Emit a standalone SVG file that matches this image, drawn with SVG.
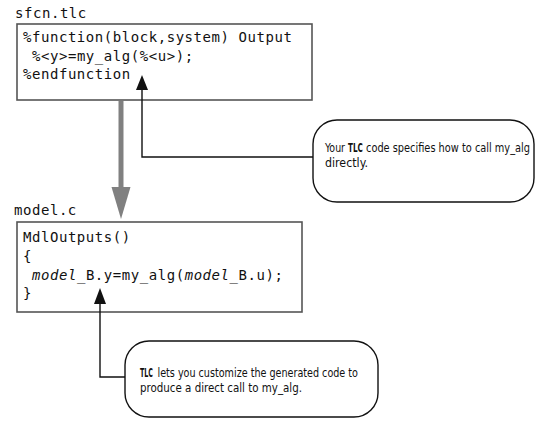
<svg xmlns="http://www.w3.org/2000/svg" width="536" height="421" viewBox="0 0 536 421">
<style>
.box{fill:#fff;stroke:#555;stroke-width:1.6}
.code{font-family:"DejaVu Sans Mono","Liberation Mono",monospace;font-size:14px;letter-spacing:0.55px;fill:#111}
.lbl{font-family:"DejaVu Sans Mono","Liberation Mono",monospace;font-size:14px;letter-spacing:0.55px;fill:#111}
.call{fill:#fff;stroke:#111;stroke-width:1.4}
.note{font-family:"Liberation Sans Narrow","DejaVu Sans Condensed","Liberation Sans",sans-serif;font-stretch:condensed;font-size:12.5px;fill:#111}
.b{font-weight:bold}
.ln{fill:none;stroke:#111;stroke-width:1.4}
</style>
<rect width="536" height="421" fill="#fff"/>
<g id="sfcn">
<text class="lbl" x="15" y="18">sfcn.tlc</text>
<rect class="box" x="17" y="24" width="295" height="76"/>
<text class="code" x="23" y="42">%function(block,system) Output</text>
<text class="code" x="32" y="61">%&lt;y&gt;=my_alg(%&lt;u&gt;);</text>
<text class="code" x="23" y="79">%endfunction</text>
</g>
<g id="modelc">
<text class="lbl" x="14" y="215">model.c</text>
<rect class="box" x="17" y="222" width="285" height="90"/>
<text class="code" x="23" y="242">MdlOutputs()</text>
<text class="code" x="23" y="261">{</text>
<text class="code" x="32" y="280"><tspan font-style="italic">model</tspan>_B.y=my_alg(<tspan font-style="italic">model</tspan>_B.u);</text>
<text class="code" x="23" y="298">}</text>
</g>
<g id="note1">
<rect class="call" x="313" y="120" width="221" height="82" rx="24" ry="24"/>
<text class="note" transform="translate(325,151.5) scale(0.8,1)" textLength="25" lengthAdjust="spacingAndGlyphs">Your</text>
<text class="note b" transform="translate(348,151.5) scale(0.8,1)" textLength="18.5" lengthAdjust="spacingAndGlyphs">TLC</text>
<text class="note" transform="translate(366,151.5) scale(0.8,1)" textLength="205" lengthAdjust="spacingAndGlyphs">code specifies how to call my_alg</text>
<text class="note" transform="translate(325,166.5) scale(0.8,1)" textLength="53.7" lengthAdjust="spacingAndGlyphs">directly.</text>
</g>
<g id="note2">
<rect class="call" x="125" y="341" width="253" height="76" rx="24" ry="24"/>
<text class="note b" transform="translate(140,376.5) scale(0.8,1)" textLength="16.2" lengthAdjust="spacingAndGlyphs">TLC</text>
<text class="note" transform="translate(157.5,376.5) scale(0.8,1)" textLength="250.6" lengthAdjust="spacingAndGlyphs">lets you customize the generated code to</text>
<text class="note" transform="translate(140,391.5) scale(0.8,1)" textLength="202.5" lengthAdjust="spacingAndGlyphs">produce a direct call to my_alg.</text>
</g>
<g id="connectors">
<line x1="121" y1="101" x2="121" y2="190" stroke="#808080" stroke-width="5"/>
<polygon points="111.5,187 130.5,187 121,219" fill="#808080"/>
<polyline class="ln" points="313,157 142,157 142,88"/>
<polygon points="136,90 148,90 142,75" fill="#111"/>
<polyline class="ln" points="125,377 100,377 100,302"/>
<polygon points="94,304 106,304 100,288" fill="#111"/>
</g>
</svg>
